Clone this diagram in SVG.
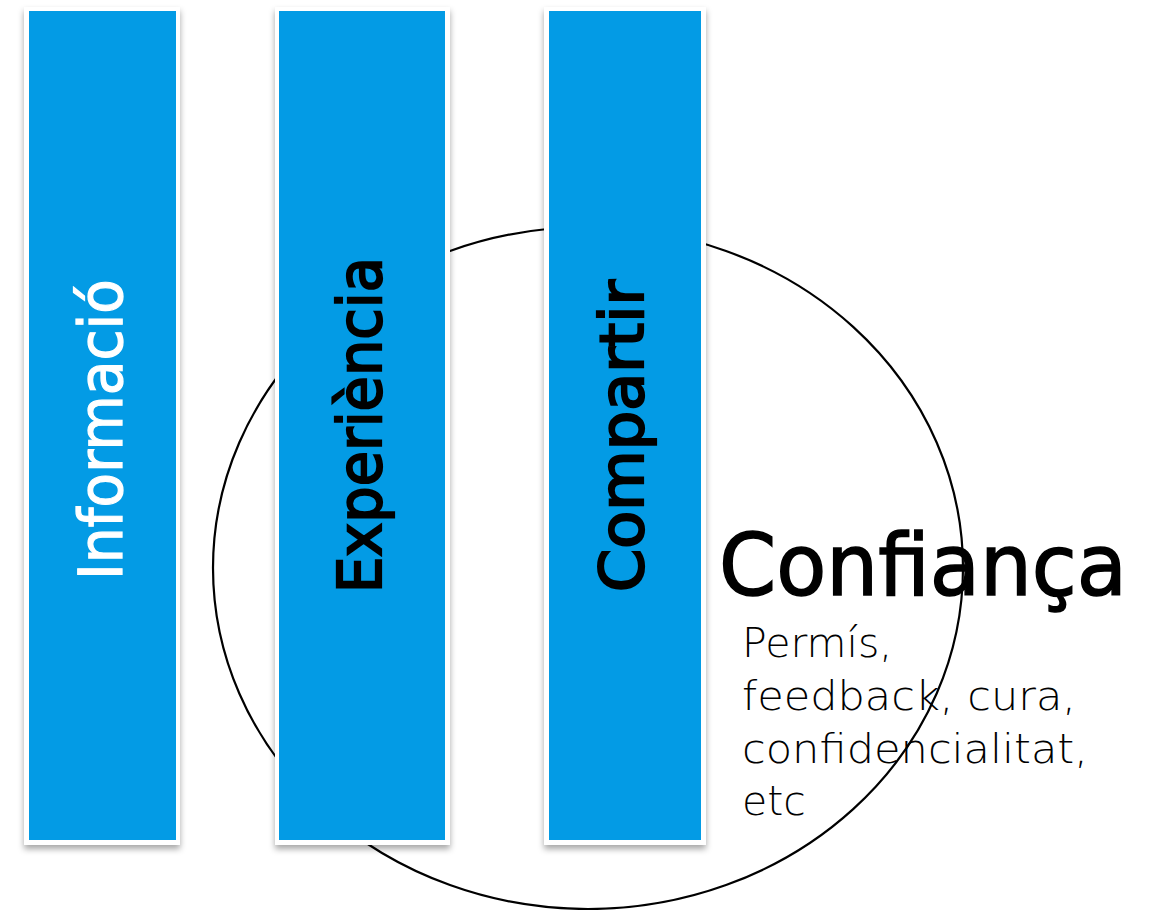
<svg xmlns="http://www.w3.org/2000/svg" width="1157" height="910" viewBox="0 0 1157 910">
<defs>
<filter id="sh" x="-10%" y="-5%" width="120%" height="110%">
<feDropShadow dx="0" dy="4" stdDeviation="3" flood-color="#000" flood-opacity="0.35"/>
</filter>
<style>
.frame{fill:#fff;filter:url(#sh)}
.bar{fill:#039be5}
.lbl{font-family:"DejaVu Sans","Liberation Sans",sans-serif;font-size:61px}
.title{font-family:"DejaVu Sans","Liberation Sans",sans-serif;font-size:86px;fill:#000;stroke:#000;stroke-width:1.6px}
.sub{font-family:"DejaVu Sans","Liberation Sans",sans-serif;font-size:41px;font-weight:300;fill:#000}
</style>
</defs>
<rect width="1157" height="910" fill="#fff"/>
<g id="circle">
<ellipse cx="588" cy="568" rx="375" ry="341" fill="none" stroke="#000" stroke-width="2.2"/>
</g>
<g id="informacio">
<rect class="frame" x="24" y="7" width="156" height="838"/>
<rect class="bar" x="29" y="11" width="147" height="829"/>
<text class="lbl" fill="#fff" stroke="#fff" stroke-width="1.2" transform="translate(122,580) rotate(-90)" textLength="301" lengthAdjust="spacingAndGlyphs">Informació</text>
</g>
<g id="experiencia">
<rect class="frame" x="275" y="7" width="175" height="838"/>
<rect class="bar" x="279" y="11" width="166" height="829"/>
<text class="lbl" fill="#000" stroke="#000" stroke-width="2.2" transform="translate(381,593) rotate(-90)" textLength="336" lengthAdjust="spacingAndGlyphs">Experiència</text>
</g>
<g id="compartir">
<rect class="frame" x="544" y="7" width="162" height="838"/>
<rect class="bar" x="549" y="11" width="152" height="829"/>
<text class="lbl" fill="#000" stroke="#000" stroke-width="2.2" transform="translate(643,592) rotate(-90)" textLength="312" lengthAdjust="spacingAndGlyphs">Compartir</text>
</g>
<g id="confianca">
<text class="title" x="719" y="595" textLength="408" lengthAdjust="spacingAndGlyphs">Confiança</text>
<text class="sub" x="742" y="657">Permís,</text>
<text class="sub" x="742" y="710" textLength="334" lengthAdjust="spacingAndGlyphs">feedback, cura,</text>
<text class="sub" x="742" y="763" textLength="346" lengthAdjust="spacingAndGlyphs">confidencialitat,</text>
<text class="sub" x="742" y="815">etc</text>
</g>
</svg>
